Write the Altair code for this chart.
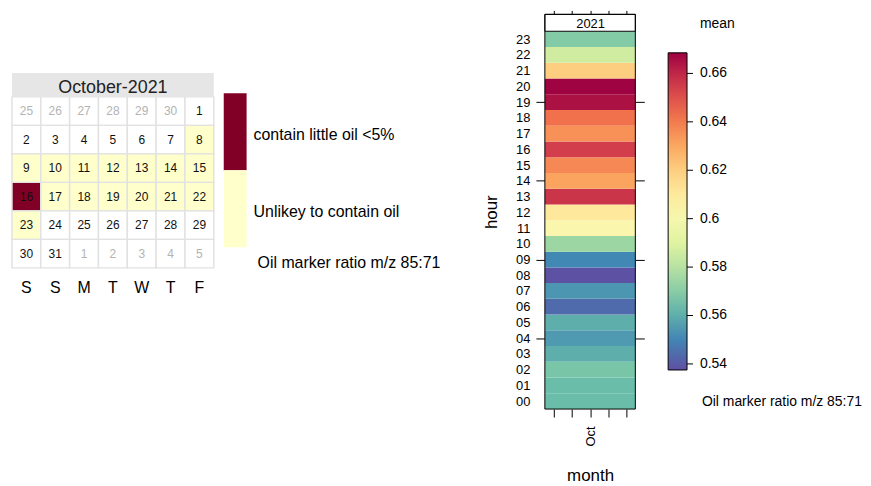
import altair as alt
import pandas as pd

FONT = "Liberation Sans"

# ---------------- data ----------------
# calendar grid for October 2021 (weeks start on Saturday)
cal_days = [25, 26, 27, 28, 29, 30, 1,
            2, 3, 4, 5, 6, 7, 8,
            9, 10, 11, 12, 13, 14, 15,
            16, 17, 18, 19, 20, 21, 22,
            23, 24, 25, 26, 27, 28, 29,
            30, 31, 1, 2, 3, 4, 5]
cal_in_month = [False] * 6 + [True] * 31 + [False] * 5
weekday_labels = ["S", "S", "M", "T", "W", "T", "F"]

legend_labels = ["contain little oil <5%", "Unlikey to contain oil"]
legend_colors = ["#800026", "#ffffcc"]
# class of each October day: 0 = contain little oil, 1 = unlikely, None = no data
oct_class = [None] * 7 + [1] * 8 + [0] + [1] * 7 + [None] * 8

# hourly mean oil marker ratio (m/z 85:71), October 2021
hours = list(range(24))
ratio_mean = [0.564, 0.564, 0.567, 0.560, 0.555, 0.560, 0.544, 0.554,
              0.538, 0.5505, 0.574, 0.604, 0.611, 0.657, 0.631, 0.637,
              0.655, 0.635, 0.642, 0.665, 0.668, 0.620, 0.586, 0.569]
hour_ticks = [4, 9, 14, 19]
colorbar_values = [0.54, 0.56, 0.58, 0.60, 0.62, 0.64, 0.66]
year_label = "2021"
caption = "Oil marker ratio m/z 85:71"

# ---------------- left panel: calendar ----------------
cls = []
k = 0
for flag in cal_in_month:
    if flag:
        c = oct_class[k]
        cls.append("none" if c is None else legend_labels[c])
        k += 1
    else:
        cls.append("none")

cal_df = pd.DataFrame({
    "day": cal_days,
    "row": [i // 7 for i in range(42)],
    "col": [i % 7 for i in range(42)],
    "inmonth": cal_in_month,
    "cls": cls,
})
wd_df = pd.DataFrame({"wd": weekday_labels, "col": list(range(7))})

COLOR_DOMAIN = legend_labels + ["none"]
COLOR_RANGE = legend_colors + ["#ffffff"]
cal_color = alt.Scale(domain=COLOR_DOMAIN, range=COLOR_RANGE)

xcal = alt.Scale(domain=[0, 7], range=[4, 207], nice=False, zero=False)
ycal = alt.Scale(domain=[0, 6], range=[83, 255], nice=False, zero=False)

cal_cells = alt.Chart(cal_df).transform_calculate(
    c1="datum.col + 1", r1="datum.row + 1"
).mark_rect(stroke="#e2e2e2", strokeWidth=1.5).encode(
    x=alt.X("col:Q", scale=xcal, axis=None),
    x2="c1:Q",
    y=alt.Y("row:Q", scale=ycal, axis=None),
    y2="r1:Q",
    color=alt.Color("cls:N", scale=cal_color, legend=None),
)

cal_text = alt.Chart(cal_df).transform_calculate(
    cx="datum.col + 0.5", cy="datum.row + 0.5"
).mark_text(fontSize=12, baseline="middle").encode(
    x=alt.X("cx:Q", scale=xcal, axis=None),
    y=alt.Y("cy:Q", scale=ycal, axis=None),
    text="day:Q",
    color=alt.condition("datum.inmonth", alt.value("#111111"), alt.value("#b3b3b3")),
)

wd_text = alt.Chart(wd_df).transform_calculate(
    cx="datum.col + 0.5"
).mark_text(fontSize=16, baseline="middle", color="black").encode(
    x=alt.X("cx:Q", scale=xcal, axis=None),
    y=alt.value(275.5),
    text="wd:N",
)

hdr_df = pd.DataFrame({"label": ["October-2021"]})
hdr_rect = alt.Chart(hdr_df).mark_rect(fill="#e6e6e6").encode(
    x=alt.value(4), x2=alt.value(207), y=alt.value(59), y2=alt.value(83)
)
hdr_text = alt.Chart(hdr_df).mark_text(fontSize=18, baseline="middle", color="#222222").encode(
    x=alt.value(105.5), y=alt.value(74), text="label:N"
)

leg_df = pd.DataFrame({"cls": legend_labels})
leg_y = alt.Scale(domain=legend_labels, range=[79.3, 234.3], paddingInner=0, paddingOuter=0)
leg_rect = alt.Chart(leg_df).mark_rect().encode(
    x=alt.value(217), x2=alt.value(240),
    y=alt.Y("cls:N", scale=leg_y, axis=None),
    color=alt.Color("cls:N", scale=cal_color, legend=None),
)
leg_text = alt.Chart(leg_df).mark_text(fontSize=16, align="left", baseline="middle", dy=3,
                                       color="black").encode(
    x=alt.value(247),
    y=alt.Y("cls:N", scale=leg_y, axis=None),
    text="cls:N",
)
cap_df = pd.DataFrame({"t": [caption]})
leg_cap = alt.Chart(cap_df).mark_text(fontSize=16, align="left", baseline="middle",
                                      color="black").encode(
    x=alt.value(251), y=alt.value(250), text="t:N"
)

left = alt.layer(
    alt.layer(cal_cells, cal_text, wd_text, hdr_rect, hdr_text),
    alt.layer(leg_rect, leg_text, leg_cap),
).resolve_scale(y="independent").properties(width=445, height=255)

# ---------------- right panel: hour x month heatmap ----------------
heat_df = pd.DataFrame({"hour": hours, "mean": ratio_mean})
cb_df = pd.DataFrame({"v": colorbar_values})
CB_DOMAIN = [0.5375, 0.6685]
xh = alt.Scale(domain=[0, 5], nice=False, zero=False)
yh = alt.Scale(domain=[-0.5, 24.574], nice=False, zero=False)
xticks = [0.5, 1.5, 2.5, 3.5, 4.5]

base = alt.Chart(heat_df).transform_calculate(
    x0="0", x1="5", y0="datum.hour - 0.5", y1="datum.hour + 0.5"
)

heat_cells = base.mark_rect().encode(
    x=alt.X("x0:Q", scale=xh, title="month",
            axis=alt.Axis(orient="bottom", values=xticks,
                          labelExpr="datum.value == 2.5 ? 'Oct' : ''",
                          labelAngle=270, tickSize=8, tickColor="black", domain=False,
                          grid=False, labelFontSize=13, labelPadding=9, labelColor="black",
                          titleFontSize=17, titleFontWeight="normal", titlePadding=22,
                          titleColor="black", labelOverlap=False, labelFlush=False)),
    x2="x1:Q",
    y=alt.Y("y0:Q", scale=yh, title="hour",
            axis=alt.Axis(orient="left", values=hours,
                          labelExpr="datum.value < 10 ? '0' + datum.value : '' + datum.value",
                          tickSize=9, tickColor="black",
                          tickOpacity={"condition": {"test": "datum.value % 5 == 4", "value": 1},
                                       "value": 0},
                          domain=False, grid=False, labelFontSize=13, labelPadding=6,
                          labelColor="black", titleFontSize=17, titleFontWeight="normal",
                          titlePadding=15, titleColor="black", labelOverlap=False,
                          labelFlush=False)),
    y2="y1:Q",
    color=alt.Color("mean:Q",
                    scale=alt.Scale(scheme="spectral", reverse=True, domain=CB_DOMAIN,
                                    nice=False, zero=False),
                    legend=alt.Legend(orient="none", legendX=124, legendY=38.7,
                                      direction="vertical", title=None, gradientLength=319,
                                      gradientThickness=19, values=colorbar_values,
                                      format=".2~f", labelFontSize=14, labelOffset=13,
                                      labelColor="black", gradientStrokeColor="black",
                                      gradientStrokeWidth=1, padding=0, labelOverlap=False)),
)

heat_right = base.mark_rect(opacity=0).encode(
    x=alt.X("x0:Q", scale=xh, axis=None),
    x2="x1:Q",
    y=alt.Y("y0:Q", scale=yh,
            axis=alt.Axis(orient="right", values=hour_ticks, labels=False, tickSize=9,
                          tickColor="black", domain=False, grid=False, title=None)),
    y2="y1:Q",
)

strip_df = pd.DataFrame({"year": [year_label]})
strip = alt.Chart(strip_df).transform_calculate(x0="0", x1="5").mark_rect(
    fill="white", stroke="black", strokeWidth=1
).encode(
    x=alt.X("x0:Q", scale=xh,
            axis=alt.Axis(orient="top", values=xticks, labels=False, tickSize=4,
                          tickColor="black", domain=False, grid=False, title=None)),
    x2="x1:Q",
    y=alt.value(0), y2=alt.value(17),
)
strip_text = alt.Chart(strip_df).mark_text(fontSize=13, baseline="middle", color="black").encode(
    x=alt.value(46), y=alt.value(9.5), text="year:N"
)
border = alt.Chart(strip_df).mark_rect(fill="transparent", stroke="black", strokeWidth=1).encode(
    x=alt.value(0), x2=alt.value(91), y=alt.value(0), y2=alt.value(397)
)
mean_df = pd.DataFrame({"t": ["mean"]})
mean_text = alt.Chart(mean_df).mark_text(fontSize=14, align="left", baseline="middle",
                                         color="black").encode(
    x=alt.value(156), y=alt.value(10), text="t:N"
)
cap2 = alt.Chart(cap_df).mark_text(fontSize=14, align="left", baseline="middle",
                                   color="black").encode(
    x=alt.value(158), y=alt.value(389.5), text="t:N"
)

heat_core = alt.layer(
    heat_cells, heat_right, strip, strip_text, border, mean_text, cap2
).resolve_axis(x="independent", y="independent")

cb_ticks = alt.Chart(cb_df).mark_rule(color="black", strokeWidth=1).encode(
    x=alt.value(143), x2=alt.value(149),
    y=alt.Y("v:Q", scale=alt.Scale(domain=CB_DOMAIN, range=[357.7, 38.7], nice=False,
                                   zero=False), axis=None),
)

heat = alt.layer(heat_core, cb_ticks).resolve_scale(y="independent").properties(
    width=91, height=397)

chart = alt.hconcat(left, heat, spacing=32).properties(padding=0).configure(
    font=FONT
).configure_view(stroke=None)

chart.save("out.html", embed_options={"renderer": "svg", "actions": False})
